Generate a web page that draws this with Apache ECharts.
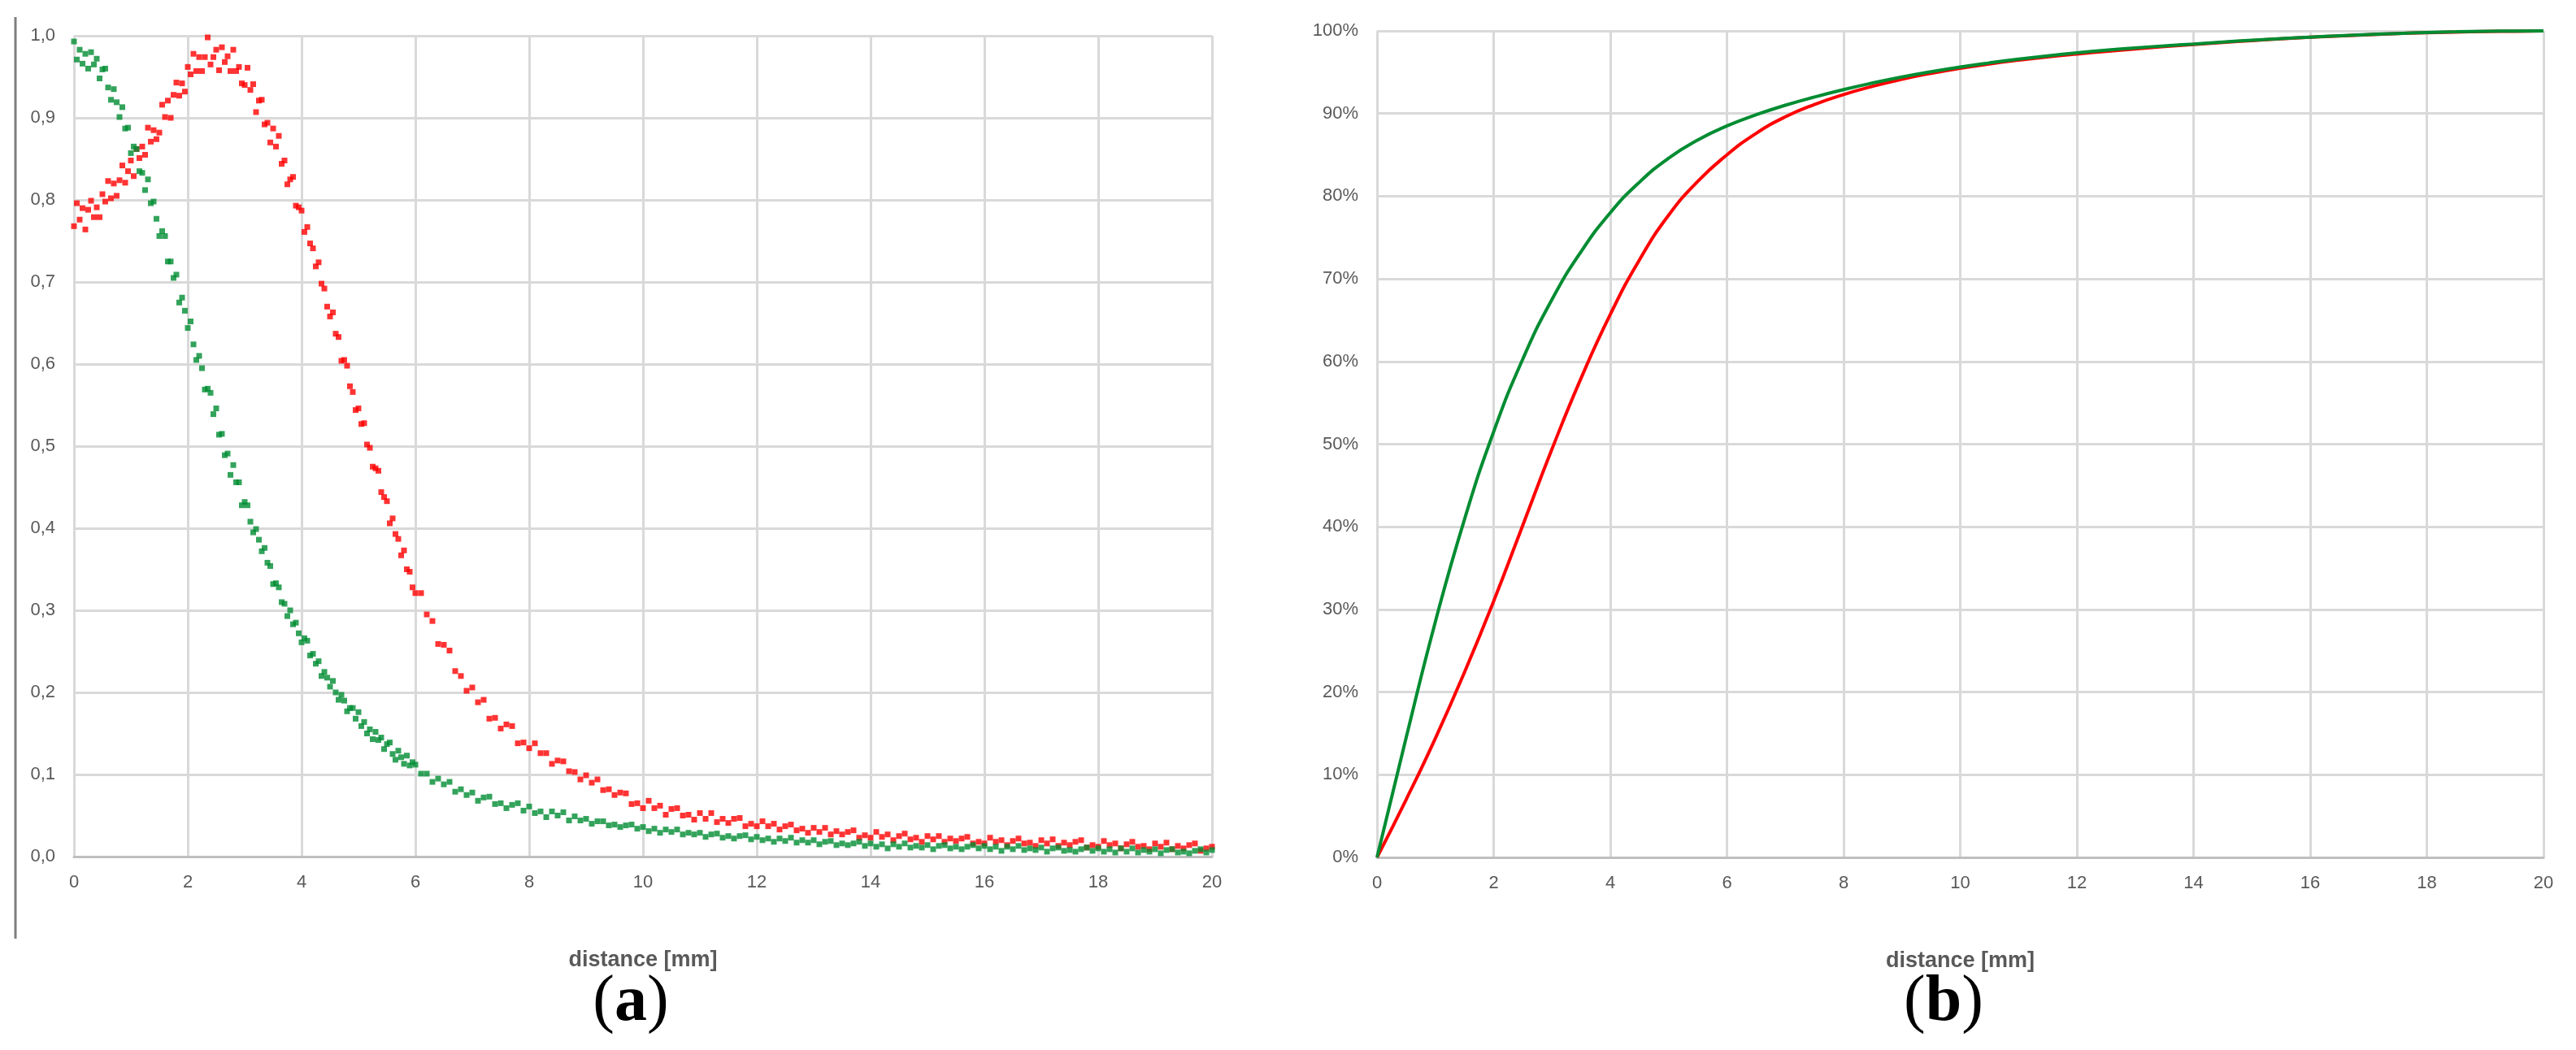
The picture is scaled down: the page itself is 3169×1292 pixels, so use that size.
<!DOCTYPE html>
<html>
<head>
<meta charset="utf-8">
<title>distance profiles</title>
<script src="https://cdn.jsdelivr.net/npm/echarts@6/dist/echarts.min.js"></script>
<style>
  html, body { margin: 0; padding: 0; background: #fff; }
  #chart { width: 3169px; height: 1292px; }
</style>
</head>
<body>
<div id="chart"></div>
<script>
// sampling grid of the measured profiles: 0.05 mm up to 6 mm, then 0.1 mm
const distance = [];
for (let i = 0; i < 120; i++) distance.push(+(i * 0.05).toFixed(2));
for (let i = 0; i <= 140; i++) distance.push(+(6 + i * 0.1).toFixed(1));

// (a) normalised profiles
const greenProfile = [
  .993, .971, .983, .966, .978, .960, .980, .965, .972, .948,
  .959, .960, .937, .922, .935, .919, .901, .913, .887, .888,
  .857, .865, .862, .835, .833, .812, .825, .796, .798, .777,
  .756, .762, .756, .725, .725, .705, .709, .675, .681, .665,
  .644, .652, .624, .605, .610, .595, .569, .570, .565, .539,
  .546, .514, .515, .489, .491, .465, .477, .456, .456, .428,
  .432, .428, .408, .395, .399, .386, .372, .376, .358, .354,
  .332, .333, .328, .310, .308, .293, .300, .283, .285, .272,
  .261, .266, .263, .245, .247, .235, .238, .220, .225, .218,
  .207, .214, .200, .191, .197, .190, .177, .181, .181, .168,
  .176, .159, .164, .150, .155, .143, .152, .142, .145, .131,
  .137, .139, .125, .118, .129, .121, .113, .123, .111, .115,
  // 6.0 mm onwards
  .112, .101, .101, .091, .095, .088, .091, .079, .082, .075,
  .078, .068, .072, .073, .064, .065, .059, .063, .065, .056,
  .061, .053, .055, .048, .055, .050, .054, .044, .049, .044,
  .046, .040, .043, .043, .038, .039, .036, .038, .039, .034,
  .036, .031, .034, .029, .033, .030, .033, .027, .029, .027,
  .029, .024, .027, .028, .023, .025, .022, .025, .026, .021,
  .024, .020, .022, .018, .022, .019, .023, .017, .020, .017,
  .020, .015, .018, .019, .014, .016, .014, .016, .018, .013,
  .016, .012, .015, .010, .015, .012, .016, .011, .013, .011,
  .014, .009, .013, .014, .010, .012, .009, .012, .014, .010,
  .013, .009, .012, .007, .012, .009, .013, .008, .010, .008,
  .011, .006, .010, .011, .007, .008, .006, .009, .011, .007,
  .010, .006, .009, .005, .010, .006, .010, .005, .008, .006,
  .009, .004, .008, .009, .005, .006, .004, .007, .009, .005,
  .008
];

const redProfile = [
  .768, .796, .776, .790, .764, .788, .799, .779, .791, .779,
  .807, .798, .823, .802, .820, .805, .824, .842, .821, .835,
  .848, .829, .862, .851, .865, .855, .888, .871, .885, .874,
  .882, .916, .901, .921, .900, .928, .943, .927, .942, .932,
  .962, .953, .978, .957, .974, .957, .974, .998, .965, .974,
  .983, .958, .986, .968, .975, .957, .983, .957, .962, .942,
  .940, .961, .934, .941, .907, .921, .922, .892, .894, .870,
  .887, .865, .878, .844, .848, .819, .825, .828, .793, .791,
  .787, .761, .767, .747, .741, .719, .724, .698, .692, .670,
  .658, .663, .637, .633, .604, .605, .598, .573, .566, .544,
  .546, .527, .528, .502, .498, .475, .473, .470, .444, .438,
  .433, .406, .412, .393, .387, .367, .373, .350, .347, .328,
  // 6.0 mm onwards
  .321, .321, .295, .287, .259, .258, .251, .226, .220, .202,
  .206, .188, .191, .168, .169, .156, .161, .159, .138, .139,
  .132, .138, .126, .126, .113, .117, .116, .104, .103, .094,
  .099, .090, .094, .081, .082, .075, .078, .077, .064, .065,
  .059, .068, .059, .062, .051, .058, .059, .050, .051, .045,
  .053, .046, .053, .042, .046, .041, .046, .047, .037, .040,
  .037, .043, .037, .040, .033, .037, .039, .032, .034, .029,
  .035, .030, .035, .027, .031, .027, .030, .032, .023, .026,
  .023, .030, .024, .027, .020, .025, .028, .021, .023, .018,
  .025, .021, .025, .018, .022, .019, .022, .024, .016, .018,
  .016, .023, .018, .020, .014, .019, .022, .016, .017, .013,
  .020, .016, .021, .013, .017, .014, .018, .020, .011, .014,
  .012, .019, .014, .016, .010, .015, .018, .012, .013, .009,
  .016, .012, .017, .009, .013, .010, .014, .016, .007, .010,
  .012
];

// (b) cumulative curves in %, every 0.5 mm
const cumDistance = [];
for (let i = 0; i <= 40; i++) cumDistance.push(i * 0.5);

const greenCumulative = [
  0, 14.5, 28.5, 40.9, 51.5, 60.3, 67.5, 73.3, 78.0, 81.7,
  84.6, 86.8, 88.5, 89.85, 91.0, 92.0, 92.9, 93.7, 94.42, 95.06,
  95.63, 96.13, 96.58, 96.98, 97.34, 97.66, 97.94, 98.19, 98.41, 98.65,
  98.87, 99.07, 99.25, 99.41, 99.56, 99.69, 99.81, 99.89, 99.95, 99.98,
  100
];
const redCumulative = [
  0, 7.0, 14.4, 22.4, 31.0, 40.2, 49.4, 58.0, 65.7, 72.3,
  77.7, 81.8, 85.0, 87.6, 89.6, 91.1, 92.3, 93.3, 94.15, 94.87,
  95.48, 96.0, 96.45, 96.85, 97.2, 97.52, 97.82, 98.1, 98.36, 98.6,
  98.83, 99.05, 99.23, 99.39, 99.54, 99.67, 99.79, 99.86, 99.92, 99.96,
  100
];

const RED = '#ff0000';
const GREEN = '#008c32';
const GRID_LINE = { show: true, lineStyle: { color: '#d9d9d9', width: 3 } };
const LABEL = { color: '#595959', fontSize: 22, fontFamily: 'Liberation Sans' };

function pairs(xs, ys) {
  return ys.map((y, i) => [xs[i], y]);
}

function distanceAxis(gridIndex) {
  return {
    type: 'value',
    gridIndex: gridIndex,
    min: 0,
    max: 20,
    interval: 2,
    name: 'distance [mm]',
    nameLocation: 'middle',
    nameGap: 114,
    nameTextStyle: { color: '#595959', fontSize: 27, fontWeight: 'bold', fontFamily: 'Liberation Sans' },
    axisLine: { show: true, lineStyle: { color: '#bfbfbf', width: 3 } },
    axisTick: { show: false },
    axisLabel: Object.assign({ margin: 21 }, LABEL),
    splitLine: GRID_LINE,
  };
}

function profileSeries(values, color) {
  return {
    type: 'scatter',
    xAxisIndex: 0,
    yAxisIndex: 0,
    data: pairs(distance, values),
    symbol: 'rect',
    symbolSize: 7,
    itemStyle: { color: color },
  };
}

function cumulativeSeries(values, color) {
  return {
    type: 'line',
    xAxisIndex: 1,
    yAxisIndex: 1,
    data: pairs(cumDistance, values),
    showSymbol: false,
    smooth: 0.5,
    lineStyle: { color: color, width: 4 },
  };
}

const caption = letter => ({
  text: '{p|(}{b|' + letter + '}{p|)}',
  align: 'center',
  verticalAlign: 'middle',
  rich: {
    p: { fontFamily: 'Liberation Serif', fontSize: 80, fill: '#000' },
    b: { fontFamily: 'Liberation Serif', fontSize: 80, fontWeight: 'bold', fill: '#000' },
  },
});

const chart = echarts.init(document.getElementById('chart'));

chart.setOption({
  animation: false,
  backgroundColor: '#ffffff',
  textStyle: { fontFamily: 'Liberation Sans' },
  grid: [
    { left: 91, top: 44, width: 1400, height: 1010 },
    { left: 1694, top: 38, width: 1435, height: 1017 },
  ],
  xAxis: [distanceAxis(0), distanceAxis(1)],
  yAxis: [
    {
      type: 'value',
      gridIndex: 0,
      min: 0,
      max: 1,
      interval: 0.1,
      axisLine: { show: false },
      axisTick: { show: false },
      axisLabel: Object.assign({
        margin: 23,
        formatter: v => v.toFixed(1).replace('.', ','),
      }, LABEL),
      splitLine: GRID_LINE,
    },
    {
      type: 'value',
      gridIndex: 1,
      min: 0,
      max: 100,
      interval: 10,
      axisLine: { show: false },
      axisTick: { show: false },
      axisLabel: Object.assign({ margin: 23, formatter: '{value}%' }, LABEL),
      splitLine: GRID_LINE,
    },
  ],
  series: [
    profileSeries(redProfile, RED),
    profileSeries(greenProfile, GREEN),
    cumulativeSeries(redCumulative, RED),
    cumulativeSeries(greenCumulative, GREEN),
  ],
  graphic: [
    {
      // frame line on the far left of panel (a)
      type: 'line',
      shape: { x1: 19, y1: 21, x2: 19, y2: 1155 },
      style: { stroke: '#7f7f7f', lineWidth: 3 },
    },
    { type: 'text', x: 776, y: 1234, style: caption('a') },
    { type: 'text', x: 2391, y: 1234, style: caption('b') },
  ],
});
</script>
</body>
</html>
